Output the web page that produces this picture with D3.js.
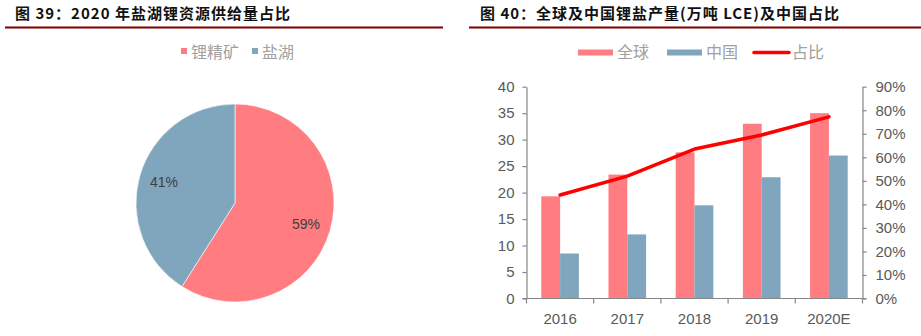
<!DOCTYPE html>
<html>
<head>
<meta charset="utf-8">
<script src="https://cdn.jsdelivr.net/npm/d3@7/dist/d3.min.js"></script>
<style>
  html, body { margin: 0; padding: 0; background: #fff; }
  svg { display: block; }
</style>
</head>
<body>
<svg id="chart" width="921" height="336"></svg>
<script>
// Pie: 2020 supply share
const pieLabels = ["锂精矿", "盐湖"];
const pieValues = [59, 41];

// Bar + line: lithium salt output (10k t LCE) and China share
const years = ["2016", "2017", "2018", "2019", "2020E"];
const globalOutput = [19.3, 23.4, 27.6, 33.0, 35.0];
const chinaOutput = [8.5, 12.1, 17.6, 22.9, 27.0];
const chinaShare = [0.44, 0.52, 0.635, 0.695, 0.772];
const leftTicks = [0, 5, 10, 15, 20, 25, 30, 35, 40];
const rightTicks = [0, 0.1, 0.2, 0.3, 0.4, 0.5, 0.6, 0.7, 0.8, 0.9];
const seriesNames = ["全球", "中国", "占比"];

const RED = "#ff7c80", BLUE = "#7fa6bd", LINE = "#ff0000";
const AXIS = "#868686", TICKTXT = "#595959", LEGTXT = "#a0a0a0";
const TITLE_FONT = "'Noto Sans CJK SC', sans-serif";
const NUM_FONT = "'Liberation Sans', Arial, sans-serif";

const svg = d3.select("#chart");

// ---------- headers ----------
function header(x, lineX1, lineX2, text) {
  svg.append("text")
    .attr("x", x).attr("y", 19)
    .attr("font-family", TITLE_FONT)
    .attr("font-weight", 700)
    .attr("font-size", 15)
    .attr("letter-spacing", 1)
    .attr("fill", "#111")
    .text(text);
  svg.append("line")
    .attr("x1", lineX1).attr("x2", lineX2)
    .attr("y1", 27.5).attr("y2", 27.5)
    .attr("stroke", "#800000").attr("stroke-width", 2);
}
header(15, 5, 443, "图 39：2020 年盐湖锂资源供给量占比");
header(480, 469, 921, "图 40：全球及中国锂盐产量(万吨 LCE)及中国占比");

// ---------- pie ----------
const pieColor = d3.scaleOrdinal().domain(pieLabels).range([RED, BLUE]);
const pieG = svg.append("g").attr("transform", "translate(235,203)");
const pie = d3.pie().sort(null).value(d => d.v);
const arcs = pie(pieLabels.map((k, i) => ({ k, v: pieValues[i] })));
const arc = d3.arc().innerRadius(0).outerRadius(99);
const labelArc = d3.arc().innerRadius(74).outerRadius(74);
pieG.selectAll("path").data(arcs).join("path")
  .attr("d", arc)
  .attr("fill", d => pieColor(d.data.k))
  .attr("stroke", "#fff").attr("stroke-width", 0.6);
pieG.selectAll("text").data(arcs).join("text")
  .attr("transform", d => `translate(${labelArc.centroid(d)})`)
  .attr("text-anchor", "middle")
  .attr("dy", "0.35em")
  .attr("font-family", NUM_FONT)
  .attr("font-size", 14)
  .attr("fill", "#404040")
  .text(d => d.data.v + "%");

// pie legend
const pieLeg = svg.append("g");
const pieLegX = [181, 252];
pieLabels.forEach((k, i) => {
  pieLeg.append("rect")
    .attr("x", pieLegX[i]).attr("y", 48)
    .attr("width", 6).attr("height", 6)
    .attr("fill", pieColor(k));
  pieLeg.append("text")
    .attr("x", pieLegX[i] + 10).attr("y", 57.5)
    .attr("font-family", TITLE_FONT)
    .attr("font-size", 16)
    .attr("fill", LEGTXT)
    .text(k);
});

// ---------- bar + line ----------
const plot = { left: 526.5, right: 862.5, top: 86.7, bottom: 298.5 };
const x = d3.scaleBand().domain(years).range([plot.left, plot.right]).paddingInner(0.44).paddingOuter(0.22);
const xSub = d3.scaleBand().domain(["g", "c"]).range([0, x.bandwidth()]);
const y = d3.scaleLinear().domain([0, 40]).range([plot.bottom, plot.top]);
const y2 = d3.scaleLinear().domain([0, 0.9]).range([plot.bottom, plot.top]);

const barG = svg.append("g");
barG.selectAll("rect.g").data(years).join("rect")
  .attr("class", "g")
  .attr("x", d => x(d) + xSub("g"))
  .attr("width", xSub.bandwidth())
  .attr("y", (d, i) => y(globalOutput[i]))
  .attr("height", (d, i) => y(0) - y(globalOutput[i]))
  .attr("fill", RED);
barG.selectAll("rect.c").data(years).join("rect")
  .attr("class", "c")
  .attr("x", d => x(d) + xSub("c"))
  .attr("width", xSub.bandwidth())
  .attr("y", (d, i) => y(chinaOutput[i]))
  .attr("height", (d, i) => y(0) - y(chinaOutput[i]))
  .attr("fill", BLUE);

// axes
function styleAxis(g) {
  g.selectAll("path, line").attr("stroke", AXIS).attr("stroke-width", 1.2);
  g.selectAll("text")
    .attr("font-family", NUM_FONT)
    .attr("font-size", 15)
    .attr("fill", TICKTXT);
}
svg.append("g")
  .attr("transform", `translate(${plot.left},0)`)
  .call(d3.axisLeft(y).tickValues(leftTicks).tickSize(4).tickSizeOuter(0).tickPadding(8))
  .call(styleAxis);
svg.append("g")
  .attr("transform", `translate(${plot.right},0)`)
  .call(d3.axisRight(y2).tickValues(rightTicks).tickFormat(d3.format(".0%")).tickSize(4).tickSizeOuter(0).tickPadding(9))
  .call(styleAxis);

// x axis: ticks sit on category boundaries
const xAxisG = svg.append("g").attr("transform", `translate(0,${plot.bottom})`);
xAxisG.append("line")
  .attr("x1", plot.left - 4).attr("x2", plot.right + 4)
  .attr("stroke", AXIS).attr("stroke-width", 1.2);
const bounds = d3.range(years.length + 1).map(i => plot.left + i * (plot.right - plot.left) / years.length);
xAxisG.selectAll("line.tick").data(bounds).join("line")
  .attr("class", "tick")
  .attr("x1", d => d).attr("x2", d => d)
  .attr("y1", 0).attr("y2", 5)
  .attr("stroke", AXIS).attr("stroke-width", 1.2);
xAxisG.selectAll("text").data(years).join("text")
  .attr("x", d => x(d) + x.bandwidth() / 2)
  .attr("y", 25)
  .attr("text-anchor", "middle")
  .attr("font-family", NUM_FONT)
  .attr("font-size", 15)
  .attr("fill", TICKTXT)
  .text(d => d);

// share line
const line = d3.line()
  .x((d, i) => x(years[i]) + x.bandwidth() / 2)
  .y(d => y2(d));
svg.append("path")
  .datum(chinaShare)
  .attr("d", line)
  .attr("fill", "none")
  .attr("stroke", LINE)
  .attr("stroke-width", 3.5)
  .attr("stroke-linecap", "round")
  .attr("stroke-linejoin", "round");

// legend
const legItems = [
  { name: seriesNames[0], type: "bar", color: RED, x: 578 },
  { name: seriesNames[1], type: "bar", color: BLUE, x: 667 },
  { name: seriesNames[2], type: "line", color: LINE, x: 753 }
];
const legG = svg.append("g");
legItems.forEach(it => {
  if (it.type === "bar") {
    legG.append("rect")
      .attr("x", it.x).attr("y", 49.5)
      .attr("width", 35).attr("height", 6)
      .attr("fill", it.color);
  } else {
    legG.append("line")
      .attr("x1", it.x + 1).attr("x2", it.x + 36)
      .attr("y1", 52.5).attr("y2", 52.5)
      .attr("stroke", it.color).attr("stroke-width", 3.5)
      .attr("stroke-linecap", "round");
  }
  legG.append("text")
    .attr("x", it.x + 39).attr("y", 58)
    .attr("font-family", TITLE_FONT)
    .attr("font-size", 16)
    .attr("fill", LEGTXT)
    .text(it.name);
});
</script>
</body>
</html>
